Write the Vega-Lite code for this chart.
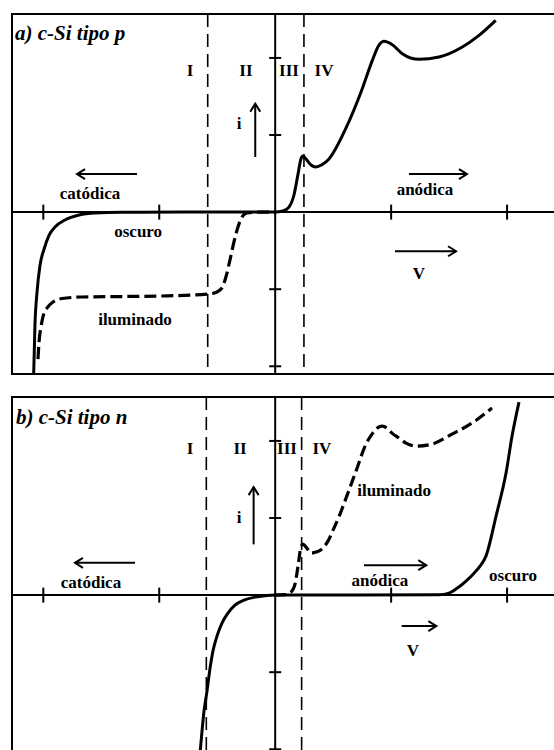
{
  "$schema": "https://vega.github.io/schema/vega-lite/v6.json",
  "background": "white",
  "padding": {"left": 10, "top": 12, "right": 0, "bottom": 0},
  "spacing": 19,
  "config": {
    "view": {"stroke": "#000", "strokeWidth": 2},
    "text": {"font": "Liberation Serif", "color": "#000"}
  },
  "datasets": {
    "curves": [
      {"p": "a", "s": "osc", "v": -2.083, "i": -2.1},
      {"p": "a", "s": "osc", "v": -2.072, "i": -1.465},
      {"p": "a", "s": "osc", "v": -2.054, "i": -1.036},
      {"p": "a", "s": "osc", "v": -2.028, "i": -0.686},
      {"p": "a", "s": "osc", "v": -1.993, "i": -0.478},
      {"p": "a", "s": "osc", "v": -1.95, "i": -0.297},
      {"p": "a", "s": "osc", "v": -1.899, "i": -0.193},
      {"p": "a", "s": "osc", "v": -1.813, "i": -0.102},
      {"p": "a", "s": "osc", "v": -1.692, "i": -0.038},
      {"p": "a", "s": "osc", "v": -1.554, "i": -0.012},
      {"p": "a", "s": "osc", "v": -1.321, "i": -0.003},
      {"p": "a", "s": "osc", "v": -0.8, "i": 0},
      {"p": "a", "s": "osc", "v": 0, "i": 0},
      {"p": "a", "s": "osc", "v": 0.067, "i": 0.014},
      {"p": "a", "s": "osc", "v": 0.119, "i": 0.066},
      {"p": "a", "s": "osc", "v": 0.162, "i": 0.222},
      {"p": "a", "s": "osc", "v": 0.197, "i": 0.494},
      {"p": "a", "s": "osc", "v": 0.222, "i": 0.689},
      {"p": "a", "s": "osc", "v": 0.24, "i": 0.728},
      {"p": "a", "s": "osc", "v": 0.266, "i": 0.689},
      {"p": "a", "s": "osc", "v": 0.309, "i": 0.611},
      {"p": "a", "s": "osc", "v": 0.352, "i": 0.585},
      {"p": "a", "s": "osc", "v": 0.403, "i": 0.615},
      {"p": "a", "s": "osc", "v": 0.464, "i": 0.69},
      {"p": "a", "s": "osc", "v": 0.608, "i": 1.082},
      {"p": "a", "s": "osc", "v": 0.751, "i": 1.601},
      {"p": "a", "s": "osc", "v": 0.838, "i": 1.969},
      {"p": "a", "s": "osc", "v": 0.895, "i": 2.165},
      {"p": "a", "s": "osc", "v": 0.938, "i": 2.216},
      {"p": "a", "s": "osc", "v": 1.01, "i": 2.172},
      {"p": "a", "s": "osc", "v": 1.096, "i": 2.055},
      {"p": "a", "s": "osc", "v": 1.24, "i": 1.982},
      {"p": "a", "s": "osc", "v": 1.413, "i": 2.012},
      {"p": "a", "s": "osc", "v": 1.614, "i": 2.142},
      {"p": "a", "s": "osc", "v": 1.758, "i": 2.293},
      {"p": "a", "s": "osc", "v": 1.902, "i": 2.488},
      {"p": "a", "s": "ilu", "v": -2.046, "i": -1.906},
      {"p": "a", "s": "ilu", "v": -2.037, "i": -1.685},
      {"p": "a", "s": "ilu", "v": -2.02, "i": -1.49},
      {"p": "a", "s": "ilu", "v": -2.003, "i": -1.36},
      {"p": "a", "s": "ilu", "v": -1.968, "i": -1.244},
      {"p": "a", "s": "ilu", "v": -1.916, "i": -1.166},
      {"p": "a", "s": "ilu", "v": -1.839, "i": -1.121},
      {"p": "a", "s": "ilu", "v": -1.666, "i": -1.101},
      {"p": "a", "s": "ilu", "v": -1.321, "i": -1.095},
      {"p": "a", "s": "ilu", "v": -0.976, "i": -1.088},
      {"p": "a", "s": "ilu", "v": -0.58, "i": -1.063},
      {"p": "a", "s": "ilu", "v": -0.502, "i": -1.036},
      {"p": "a", "s": "ilu", "v": -0.459, "i": -0.984},
      {"p": "a", "s": "ilu", "v": -0.425, "i": -0.842},
      {"p": "a", "s": "ilu", "v": -0.39, "i": -0.621},
      {"p": "a", "s": "ilu", "v": -0.356, "i": -0.388},
      {"p": "a", "s": "ilu", "v": -0.321, "i": -0.193},
      {"p": "a", "s": "ilu", "v": -0.287, "i": -0.064},
      {"p": "a", "s": "ilu", "v": -0.243, "i": -0.012},
      {"p": "a", "s": "ilu", "v": -0.157, "i": 0},
      {"p": "a", "s": "ilu", "v": 0, "i": 0},
      {"p": "b", "s": "osc", "v": -0.649, "i": -2.063},
      {"p": "b", "s": "osc", "v": -0.631, "i": -1.764},
      {"p": "b", "s": "osc", "v": -0.614, "i": -1.505},
      {"p": "b", "s": "osc", "v": -0.588, "i": -1.245},
      {"p": "b", "s": "osc", "v": -0.562, "i": -0.947},
      {"p": "b", "s": "osc", "v": -0.537, "i": -0.726},
      {"p": "b", "s": "osc", "v": -0.502, "i": -0.532},
      {"p": "b", "s": "osc", "v": -0.459, "i": -0.363},
      {"p": "b", "s": "osc", "v": -0.407, "i": -0.233},
      {"p": "b", "s": "osc", "v": -0.347, "i": -0.13},
      {"p": "b", "s": "osc", "v": -0.269, "i": -0.065},
      {"p": "b", "s": "osc", "v": -0.174, "i": -0.026},
      {"p": "b", "s": "osc", "v": -0.071, "i": -0.004},
      {"p": "b", "s": "osc", "v": 0, "i": 0},
      {"p": "b", "s": "osc", "v": 0.662, "i": 0},
      {"p": "b", "s": "osc", "v": 1.413, "i": 0.004},
      {"p": "b", "s": "osc", "v": 1.499, "i": 0.026},
      {"p": "b", "s": "osc", "v": 1.559, "i": 0.078},
      {"p": "b", "s": "osc", "v": 1.646, "i": 0.182},
      {"p": "b", "s": "osc", "v": 1.715, "i": 0.285},
      {"p": "b", "s": "osc", "v": 1.767, "i": 0.376},
      {"p": "b", "s": "osc", "v": 1.818, "i": 0.506},
      {"p": "b", "s": "osc", "v": 1.905, "i": 1.025},
      {"p": "b", "s": "osc", "v": 1.991, "i": 1.583},
      {"p": "b", "s": "osc", "v": 2.043, "i": 2.063},
      {"p": "b", "s": "osc", "v": 2.103, "i": 2.504},
      {"p": "b", "s": "ilu", "v": 0, "i": 0},
      {"p": "b", "s": "ilu", "v": 0.085, "i": 0.006},
      {"p": "b", "s": "ilu", "v": 0.136, "i": 0.039},
      {"p": "b", "s": "ilu", "v": 0.171, "i": 0.143},
      {"p": "b", "s": "ilu", "v": 0.197, "i": 0.376},
      {"p": "b", "s": "ilu", "v": 0.222, "i": 0.623},
      {"p": "b", "s": "ilu", "v": 0.24, "i": 0.662},
      {"p": "b", "s": "ilu", "v": 0.266, "i": 0.623},
      {"p": "b", "s": "ilu", "v": 0.309, "i": 0.545},
      {"p": "b", "s": "ilu", "v": 0.352, "i": 0.558},
      {"p": "b", "s": "ilu", "v": 0.403, "i": 0.597},
      {"p": "b", "s": "ilu", "v": 0.455, "i": 0.7},
      {"p": "b", "s": "ilu", "v": 0.507, "i": 0.869},
      {"p": "b", "s": "ilu", "v": 0.559, "i": 1.051},
      {"p": "b", "s": "ilu", "v": 0.611, "i": 1.258},
      {"p": "b", "s": "ilu", "v": 0.697, "i": 1.609},
      {"p": "b", "s": "ilu", "v": 0.783, "i": 1.959},
      {"p": "b", "s": "ilu", "v": 0.835, "i": 2.088},
      {"p": "b", "s": "ilu", "v": 0.878, "i": 2.166},
      {"p": "b", "s": "ilu", "v": 0.921, "i": 2.192},
      {"p": "b", "s": "ilu", "v": 0.964, "i": 2.166},
      {"p": "b", "s": "ilu", "v": 1.007, "i": 2.101},
      {"p": "b", "s": "ilu", "v": 1.068, "i": 2.037},
      {"p": "b", "s": "ilu", "v": 1.128, "i": 1.972},
      {"p": "b", "s": "ilu", "v": 1.214, "i": 1.933},
      {"p": "b", "s": "ilu", "v": 1.352, "i": 1.959},
      {"p": "b", "s": "ilu", "v": 1.525, "i": 2.088},
      {"p": "b", "s": "ilu", "v": 1.697, "i": 2.231},
      {"p": "b", "s": "ilu", "v": 1.87, "i": 2.426}
    ],
    "dashes": [
      {"p": "a", "v": -0.582},
      {"p": "a", "v": 0.248},
      {"p": "b", "v": -0.594},
      {"p": "b", "v": 0.228}
    ],
    "ticks": [
      {"p": "a", "ax": "x", "val": -2}, {"p": "a", "ax": "x", "val": -1},
      {"p": "a", "ax": "x", "val": 1}, {"p": "a", "ax": "x", "val": 2},
      {"p": "a", "ax": "y", "val": -2}, {"p": "a", "ax": "y", "val": -1},
      {"p": "a", "ax": "y", "val": 1}, {"p": "a", "ax": "y", "val": 2},
      {"p": "b", "ax": "x", "val": -2}, {"p": "b", "ax": "x", "val": -1},
      {"p": "b", "ax": "x", "val": 1}, {"p": "b", "ax": "x", "val": 2},
      {"p": "b", "ax": "y", "val": -2}, {"p": "b", "ax": "y", "val": -1},
      {"p": "b", "ax": "y", "val": 1}, {"p": "b", "ax": "y", "val": 2}
    ],
    "arrows": [
      {"p": "a", "d": "left", "v1": -1.192, "i1": 0.494, "v2": -1.709, "i2": 0.494},
      {"p": "a", "d": "right", "v1": 1.154, "i1": 0.494, "v2": 1.654, "i2": 0.494},
      {"p": "a", "d": "right", "v1": 1.033, "i1": -0.508, "v2": 1.56, "i2": -0.508},
      {"p": "a", "d": "up", "v1": -0.172, "i1": 0.715, "v2": -0.172, "i2": 1.406},
      {"p": "b", "d": "left", "v1": -1.209, "i1": 0.419, "v2": -1.727, "i2": 0.419},
      {"p": "b", "d": "right", "v1": 0.766, "i1": 0.389, "v2": 1.303, "i2": 0.389},
      {"p": "b", "d": "right", "v1": 1.091, "i1": -0.402, "v2": 1.39, "i2": -0.402},
      {"p": "b", "d": "up", "v1": -0.186, "i1": 0.658, "v2": -0.186, "i2": 1.401}
    ],
    "texts": [
      {"p": "a", "g": "title", "t": "a) c-Si tipo p", "v": -2.244, "i": 2.232},
      {"p": "a", "g": "roman", "t": "I", "v": -0.735, "i": 1.766},
      {"p": "a", "g": "roman", "t": "II", "v": -0.252, "i": 1.766},
      {"p": "a", "g": "roman", "t": "III", "v": 0.119, "i": 1.766},
      {"p": "a", "g": "roman", "t": "IV", "v": 0.421, "i": 1.766},
      {"p": "a", "g": "sym", "t": "i", "v": -0.312, "i": 1.079},
      {"p": "a", "g": "sym", "t": "V", "v": 1.24, "i": -0.868},
      {"p": "a", "g": "word", "t": "catódica", "v": -1.597, "i": 0.171},
      {"p": "a", "g": "word", "t": "anódica", "v": 1.292, "i": 0.219},
      {"p": "a", "g": "word", "t": "oscuro", "v": -1.182, "i": -0.323},
      {"p": "a", "g": "word", "t": "iluminado", "v": -1.209, "i": -1.469},
      {"p": "b", "g": "title", "t": "b) c-Si tipo n", "v": -2.236, "i": 2.218},
      {"p": "b", "g": "roman", "t": "I", "v": -0.735, "i": 1.829},
      {"p": "b", "g": "roman", "t": "II", "v": -0.303, "i": 1.829},
      {"p": "b", "g": "roman", "t": "III", "v": 0.102, "i": 1.829},
      {"p": "b", "g": "roman", "t": "IV", "v": 0.403, "i": 1.829},
      {"p": "b", "g": "sym", "t": "i", "v": -0.312, "i": 0.934},
      {"p": "b", "g": "sym", "t": "V", "v": 1.188, "i": -0.791},
      {"p": "b", "g": "word", "t": "catódica", "v": -1.589, "i": 0.091},
      {"p": "b", "g": "word", "t": "anódica", "v": 0.903, "i": 0.117},
      {"p": "b", "g": "word", "t": "oscuro", "v": 2.051, "i": 0.182},
      {"p": "b", "g": "word", "t": "iluminado", "v": 1.025, "i": 1.284}
    ]
  },
  "vconcat": [
    {
      "width": 560,
      "height": 360,
      "layer": [
        {"data": {"name": "dashes"}, "transform": [{"filter": "datum.p == 'a'"}],
         "mark": {"type": "rule", "strokeDash": [13, 7], "strokeWidth": 1.6, "color": "#000"},
         "encoding": {"x": {"field": "v", "type": "quantitative", "scale": {"domain": [-2.27, 2.56], "nice": false, "zero": false}, "axis": null}}},
        {"data": {"values": [{}]},
         "mark": {"type": "rule", "strokeWidth": 2, "color": "#000"},
         "encoding": {"y": {"datum": 0, "type": "quantitative", "scale": {"domain": [-2.1, 2.57], "nice": false, "zero": false}, "axis": null}}},
        {"data": {"values": [{}]},
         "mark": {"type": "rule", "strokeWidth": 2, "color": "#000"},
         "encoding": {"x": {"datum": 0, "type": "quantitative", "scale": {"domain": [-2.27, 2.56], "nice": false, "zero": false}, "axis": null}}},
        {"data": {"name": "ticks"}, "transform": [{"filter": "datum.p == 'a' && datum.ax == 'x'"}],
         "mark": {"type": "tick", "orient": "vertical", "size": 15, "thickness": 2, "color": "#000", "opacity": 1},
         "encoding": {
           "x": {"field": "val", "type": "quantitative", "scale": {"domain": [-2.27, 2.56], "nice": false, "zero": false}, "axis": null},
           "y": {"datum": 0, "type": "quantitative", "scale": {"domain": [-2.1, 2.57], "nice": false, "zero": false}, "axis": null}}},
        {"data": {"name": "ticks"}, "transform": [{"filter": "datum.p == 'a' && datum.ax == 'y'"}],
         "mark": {"type": "tick", "orient": "horizontal", "size": 12, "thickness": 2, "color": "#000", "opacity": 1},
         "encoding": {
           "y": {"field": "val", "type": "quantitative", "scale": {"domain": [-2.1, 2.57], "nice": false, "zero": false}, "axis": null},
           "x": {"datum": 0, "type": "quantitative", "scale": {"domain": [-2.27, 2.56], "nice": false, "zero": false}, "axis": null}}},
        {"data": {"name": "curves"}, "transform": [{"filter": "datum.p == 'a' && datum.s == 'osc'"}],
         "mark": {"type": "line", "interpolate": "monotone", "strokeWidth": 3, "color": "#000", "clip": true},
         "encoding": {
           "x": {"field": "v", "type": "quantitative", "scale": {"domain": [-2.27, 2.56], "nice": false, "zero": false}, "axis": null},
           "y": {"field": "i", "type": "quantitative", "scale": {"domain": [-2.1, 2.57], "nice": false, "zero": false}, "axis": null}}},
        {"data": {"name": "curves"}, "transform": [{"filter": "datum.p == 'a' && datum.s == 'ilu'"}],
         "mark": {"type": "line", "interpolate": "monotone", "strokeWidth": 3.2, "strokeDash": [12, 5], "color": "#000", "clip": true},
         "encoding": {
           "x": {"field": "v", "type": "quantitative", "scale": {"domain": [-2.27, 2.56], "nice": false, "zero": false}, "axis": null},
           "y": {"field": "i", "type": "quantitative", "scale": {"domain": [-2.1, 2.57], "nice": false, "zero": false}, "axis": null}}},
        {"data": {"name": "arrows"}, "transform": [{"filter": "datum.p == 'a'"}],
         "mark": {"type": "rule", "strokeWidth": 2, "color": "#000"},
         "encoding": {
           "x": {"field": "v1", "type": "quantitative", "scale": {"domain": [-2.27, 2.56], "nice": false, "zero": false}, "axis": null},
           "x2": {"field": "v2"},
           "y": {"field": "i1", "type": "quantitative", "scale": {"domain": [-2.1, 2.57], "nice": false, "zero": false}, "axis": null},
           "y2": {"field": "i2"}}},
        {"data": {"name": "arrows"}, "transform": [{"filter": "datum.p == 'a' && datum.d == 'right'"}],
         "mark": {"type": "point", "shape": "M-1.6,-1L0,0L-1.6,1", "filled": false, "size": 100, "strokeWidth": 2, "color": "#000", "opacity": 1, "angle": 0},
         "encoding": {
           "x": {"field": "v2", "type": "quantitative", "scale": {"domain": [-2.27, 2.56], "nice": false, "zero": false}, "axis": null},
           "y": {"field": "i2", "type": "quantitative", "scale": {"domain": [-2.1, 2.57], "nice": false, "zero": false}, "axis": null}}},
        {"data": {"name": "arrows"}, "transform": [{"filter": "datum.p == 'a' && datum.d == 'left'"}],
         "mark": {"type": "point", "shape": "M-1.6,-1L0,0L-1.6,1", "filled": false, "size": 100, "strokeWidth": 2, "color": "#000", "opacity": 1, "angle": 180},
         "encoding": {
           "x": {"field": "v2", "type": "quantitative", "scale": {"domain": [-2.27, 2.56], "nice": false, "zero": false}, "axis": null},
           "y": {"field": "i2", "type": "quantitative", "scale": {"domain": [-2.1, 2.57], "nice": false, "zero": false}, "axis": null}}},
        {"data": {"name": "arrows"}, "transform": [{"filter": "datum.p == 'a' && datum.d == 'up'"}],
         "mark": {"type": "point", "shape": "M-1.6,-1L0,0L-1.6,1", "filled": false, "size": 100, "strokeWidth": 2, "color": "#000", "opacity": 1, "angle": 270},
         "encoding": {
           "x": {"field": "v2", "type": "quantitative", "scale": {"domain": [-2.27, 2.56], "nice": false, "zero": false}, "axis": null},
           "y": {"field": "i2", "type": "quantitative", "scale": {"domain": [-2.1, 2.57], "nice": false, "zero": false}, "axis": null}}},
        {"data": {"name": "texts"}, "transform": [{"filter": "datum.p == 'a' && datum.g == 'title'"}],
         "mark": {"type": "text", "align": "left", "baseline": "alphabetic", "fontSize": 21, "fontStyle": "italic", "fontWeight": "bold"},
         "encoding": {
           "x": {"field": "v", "type": "quantitative", "scale": {"domain": [-2.27, 2.56], "nice": false, "zero": false}, "axis": null},
           "y": {"field": "i", "type": "quantitative", "scale": {"domain": [-2.1, 2.57], "nice": false, "zero": false}, "axis": null},
           "text": {"field": "t"}}},
        {"data": {"name": "texts"}, "transform": [{"filter": "datum.p == 'a' && datum.g != 'title'"}],
         "mark": {"type": "text", "align": "center", "baseline": "alphabetic", "fontSize": 17, "fontWeight": "bold"},
         "encoding": {
           "x": {"field": "v", "type": "quantitative", "scale": {"domain": [-2.27, 2.56], "nice": false, "zero": false}, "axis": null},
           "y": {"field": "i", "type": "quantitative", "scale": {"domain": [-2.1, 2.57], "nice": false, "zero": false}, "axis": null},
           "text": {"field": "t"}}}
      ]
    },
    {
      "width": 560,
      "height": 360,
      "layer": [
        {"data": {"name": "dashes"}, "transform": [{"filter": "datum.p == 'b'"}],
         "mark": {"type": "rule", "strokeDash": [13, 7], "strokeWidth": 1.6, "color": "#000"},
         "encoding": {"x": {"field": "v", "type": "quantitative", "scale": {"domain": [-2.27, 2.56], "nice": false, "zero": false}, "axis": null}}},
        {"data": {"values": [{}]},
         "mark": {"type": "rule", "strokeWidth": 2, "color": "#000"},
         "encoding": {"y": {"datum": 0, "type": "quantitative", "scale": {"domain": [-2.1, 2.57], "nice": false, "zero": false}, "axis": null}}},
        {"data": {"values": [{}]},
         "mark": {"type": "rule", "strokeWidth": 2, "color": "#000"},
         "encoding": {"x": {"datum": 0, "type": "quantitative", "scale": {"domain": [-2.27, 2.56], "nice": false, "zero": false}, "axis": null}}},
        {"data": {"name": "ticks"}, "transform": [{"filter": "datum.p == 'b' && datum.ax == 'x'"}],
         "mark": {"type": "tick", "orient": "vertical", "size": 15, "thickness": 2, "color": "#000", "opacity": 1},
         "encoding": {
           "x": {"field": "val", "type": "quantitative", "scale": {"domain": [-2.27, 2.56], "nice": false, "zero": false}, "axis": null},
           "y": {"datum": 0, "type": "quantitative", "scale": {"domain": [-2.1, 2.57], "nice": false, "zero": false}, "axis": null}}},
        {"data": {"name": "ticks"}, "transform": [{"filter": "datum.p == 'b' && datum.ax == 'y'"}],
         "mark": {"type": "tick", "orient": "horizontal", "size": 12, "thickness": 2, "color": "#000", "opacity": 1},
         "encoding": {
           "y": {"field": "val", "type": "quantitative", "scale": {"domain": [-2.1, 2.57], "nice": false, "zero": false}, "axis": null},
           "x": {"datum": 0, "type": "quantitative", "scale": {"domain": [-2.27, 2.56], "nice": false, "zero": false}, "axis": null}}},
        {"data": {"name": "curves"}, "transform": [{"filter": "datum.p == 'b' && datum.s == 'osc'"}],
         "mark": {"type": "line", "interpolate": "monotone", "strokeWidth": 3, "color": "#000", "clip": true},
         "encoding": {
           "x": {"field": "v", "type": "quantitative", "scale": {"domain": [-2.27, 2.56], "nice": false, "zero": false}, "axis": null},
           "y": {"field": "i", "type": "quantitative", "scale": {"domain": [-2.1, 2.57], "nice": false, "zero": false}, "axis": null}}},
        {"data": {"name": "curves"}, "transform": [{"filter": "datum.p == 'b' && datum.s == 'ilu'"}],
         "mark": {"type": "line", "interpolate": "monotone", "strokeWidth": 3.2, "strokeDash": [11, 5], "color": "#000", "clip": true},
         "encoding": {
           "x": {"field": "v", "type": "quantitative", "scale": {"domain": [-2.27, 2.56], "nice": false, "zero": false}, "axis": null},
           "y": {"field": "i", "type": "quantitative", "scale": {"domain": [-2.1, 2.57], "nice": false, "zero": false}, "axis": null}}},
        {"data": {"name": "arrows"}, "transform": [{"filter": "datum.p == 'b'"}],
         "mark": {"type": "rule", "strokeWidth": 2, "color": "#000"},
         "encoding": {
           "x": {"field": "v1", "type": "quantitative", "scale": {"domain": [-2.27, 2.56], "nice": false, "zero": false}, "axis": null},
           "x2": {"field": "v2"},
           "y": {"field": "i1", "type": "quantitative", "scale": {"domain": [-2.1, 2.57], "nice": false, "zero": false}, "axis": null},
           "y2": {"field": "i2"}}},
        {"data": {"name": "arrows"}, "transform": [{"filter": "datum.p == 'b' && datum.d == 'right'"}],
         "mark": {"type": "point", "shape": "M-1.6,-1L0,0L-1.6,1", "filled": false, "size": 100, "strokeWidth": 2, "color": "#000", "opacity": 1, "angle": 0},
         "encoding": {
           "x": {"field": "v2", "type": "quantitative", "scale": {"domain": [-2.27, 2.56], "nice": false, "zero": false}, "axis": null},
           "y": {"field": "i2", "type": "quantitative", "scale": {"domain": [-2.1, 2.57], "nice": false, "zero": false}, "axis": null}}},
        {"data": {"name": "arrows"}, "transform": [{"filter": "datum.p == 'b' && datum.d == 'left'"}],
         "mark": {"type": "point", "shape": "M-1.6,-1L0,0L-1.6,1", "filled": false, "size": 100, "strokeWidth": 2, "color": "#000", "opacity": 1, "angle": 180},
         "encoding": {
           "x": {"field": "v2", "type": "quantitative", "scale": {"domain": [-2.27, 2.56], "nice": false, "zero": false}, "axis": null},
           "y": {"field": "i2", "type": "quantitative", "scale": {"domain": [-2.1, 2.57], "nice": false, "zero": false}, "axis": null}}},
        {"data": {"name": "arrows"}, "transform": [{"filter": "datum.p == 'b' && datum.d == 'up'"}],
         "mark": {"type": "point", "shape": "M-1.6,-1L0,0L-1.6,1", "filled": false, "size": 100, "strokeWidth": 2, "color": "#000", "opacity": 1, "angle": 270},
         "encoding": {
           "x": {"field": "v2", "type": "quantitative", "scale": {"domain": [-2.27, 2.56], "nice": false, "zero": false}, "axis": null},
           "y": {"field": "i2", "type": "quantitative", "scale": {"domain": [-2.1, 2.57], "nice": false, "zero": false}, "axis": null}}},
        {"data": {"name": "texts"}, "transform": [{"filter": "datum.p == 'b' && datum.g == 'title'"}],
         "mark": {"type": "text", "align": "left", "baseline": "alphabetic", "fontSize": 21, "fontStyle": "italic", "fontWeight": "bold"},
         "encoding": {
           "x": {"field": "v", "type": "quantitative", "scale": {"domain": [-2.27, 2.56], "nice": false, "zero": false}, "axis": null},
           "y": {"field": "i", "type": "quantitative", "scale": {"domain": [-2.1, 2.57], "nice": false, "zero": false}, "axis": null},
           "text": {"field": "t"}}},
        {"data": {"name": "texts"}, "transform": [{"filter": "datum.p == 'b' && datum.g != 'title'"}],
         "mark": {"type": "text", "align": "center", "baseline": "alphabetic", "fontSize": 17, "fontWeight": "bold"},
         "encoding": {
           "x": {"field": "v", "type": "quantitative", "scale": {"domain": [-2.27, 2.56], "nice": false, "zero": false}, "axis": null},
           "y": {"field": "i", "type": "quantitative", "scale": {"domain": [-2.1, 2.57], "nice": false, "zero": false}, "axis": null},
           "text": {"field": "t"}}}
      ]
    }
  ]
}
